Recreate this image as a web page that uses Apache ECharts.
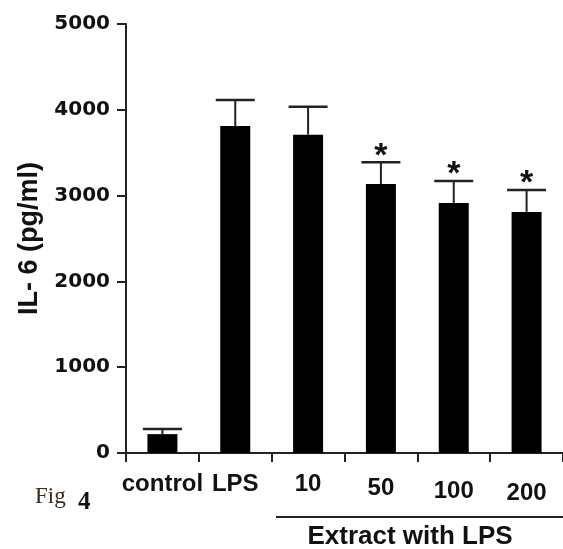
<!DOCTYPE html>
<html>
<head>
<meta charset="utf-8">
<script src="https://cdn.jsdelivr.net/npm/echarts@6/dist/echarts.min.js"></script>
<style>
html,body{margin:0;padding:0;background:#ffffff;}
#chart{width:563px;height:549px;}
</style>
</head>
<body>
<div id="chart"></div>
<script>
// Data
const categories = ['control', 'LPS', '10', '50', '100', '200'];
const means = [220, 3810, 3710, 3135, 2915, 2810];
const errors = [60, 305, 325, 255, 255, 255];
const significance = ['', '', '', '*', '*', '*'];
const yTicks = [0, 1000, 2000, 3000, 4000, 5000];
const labelShift = [0, 0, 0, 4, 7, 9];

const chart = echarts.init(document.getElementById('chart'), null, {renderer: 'canvas'});

const errData = categories.map((c, i) => [i, means[i], means[i] + errors[i]]);

const richStyles = {};
labelShift.forEach((s, i) => {
  richStyles['s' + i] = {
    fontFamily: '"Liberation Sans", Arial, sans-serif',
    fontWeight: 'bold',
    fontSize: 24,
    color: '#111',
    padding: [s, 0, 0, 0]
  };
});

const option = {
  backgroundColor: '#ffffff',
  animation: false,
  grid: {left: 126, top: 24, bottom: 96, right: -9, containLabel: false},
  xAxis: {
    type: 'category',
    data: categories,
    boundaryGap: true,
    axisLine: {show: true, lineStyle: {color: '#222', width: 2}},
    axisTick: {show: true, length: 9, lineStyle: {color: '#222', width: 2}},
    axisLabel: {
      margin: 19,
      interval: 0,
      formatter: function (v, i) { return '{s' + i + '|' + v + '}'; },
      rich: richStyles
    },
    splitLine: {show: false}
  },
  yAxis: {
    type: 'value',
    min: yTicks[0],
    max: yTicks[yTicks.length - 1],
    interval: 1000,
    name: 'IL- 6 (pg/ml)',
    nameLocation: 'middle',
    nameRotate: 90,
    nameGap: 83,
    nameTextStyle: {
      fontFamily: '"Liberation Sans", Arial, sans-serif',
      fontWeight: 'bold',
      fontSize: 27,
      color: '#111'
    },
    axisLine: {show: true, lineStyle: {color: '#222', width: 2}},
    axisTick: {show: true, length: 9, lineStyle: {color: '#222', width: 2}},
    axisLabel: {
      margin: 16,
      fontFamily: '"DejaVu Sans", sans-serif',
      fontWeight: 'bold',
      fontSize: 20,
      color: '#111',
      formatter: function (v) { return String(v); }
    },
    splitLine: {show: false}
  },
  series: [
    {
      type: 'bar',
      data: means,
      barWidth: 30,
      itemStyle: {color: '#000'},
      z: 2
    },
    {
      type: 'custom',
      data: errData,
      z: 3,
      renderItem: function (params, api) {
        const i = api.value(0);
        const base = api.coord([i, api.value(1)]);
        const top = api.coord([i, api.value(2)]);
        const half = 19.5;
        const children = [
          {type: 'line', shape: {x1: top[0], y1: base[1], x2: top[0], y2: top[1]}, style: {stroke: '#222', lineWidth: 2}},
          {type: 'line', shape: {x1: top[0] - half, y1: top[1], x2: top[0] + half, y2: top[1]}, style: {stroke: '#222', lineWidth: 2.5}}
        ];
        const s = significance[params.dataIndex];
        if (s) {
          children.push({
            type: 'text',
            style: {
              text: s, x: top[0], y: top[1] - 6,
              align: 'center', verticalAlign: 'middle',
              font: 'bold 34px "Liberation Sans", Arial, sans-serif',
              fill: '#111'
            }
          });
        }
        return {type: 'group', children: children};
      }
    }
  ],
  graphic: [
    {type: 'line', shape: {x1: 276, y1: 517, x2: 563, y2: 517}, style: {stroke: '#222', lineWidth: 2}},
    {type: 'text', style: {text: 'Extract with LPS', x: 410, y: 537, align: 'center', verticalAlign: 'middle',
      font: 'bold 26px "Liberation Sans", Arial, sans-serif', fill: '#111'}},
    {type: 'text', style: {text: 'Fig', x: 35, y: 497, align: 'left', verticalAlign: 'middle',
      font: '23px "Liberation Serif", "DejaVu Serif", serif', fill: '#3a2a1c'}},
    {type: 'text', style: {text: '4', x: 78, y: 503, align: 'left', verticalAlign: 'middle',
      font: 'bold 25px "Liberation Serif", "DejaVu Serif", serif', fill: '#111'}}
  ]
};

chart.setOption(option);
</script>
</body>
</html>
